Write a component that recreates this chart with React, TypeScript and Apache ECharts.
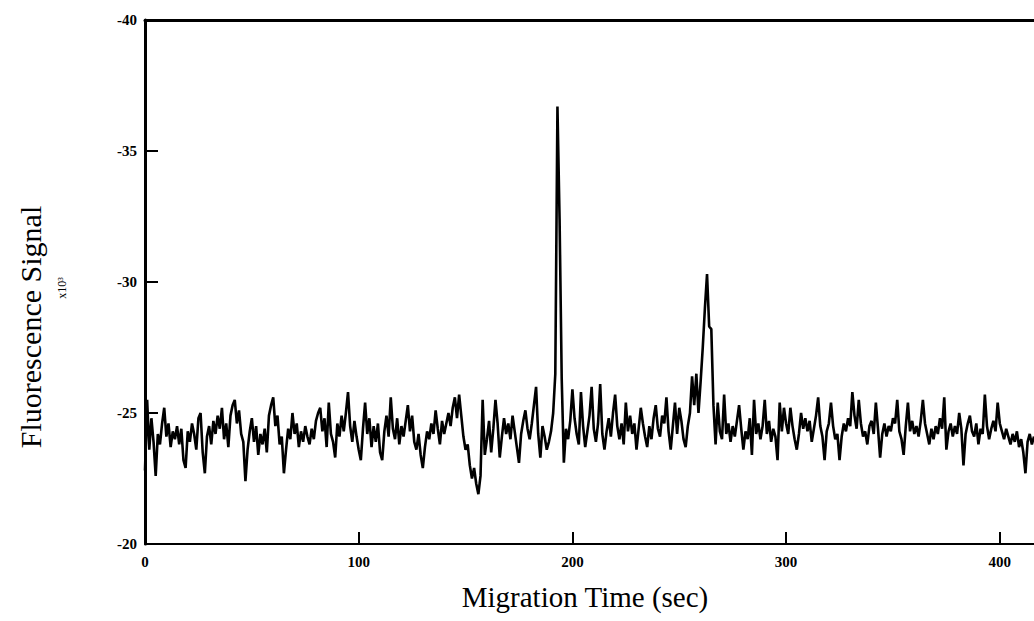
import React, { useEffect, useRef } from "react";
import * as echarts from "echarts";

// Sampling: one point per second starting at t = 0 s
const sampleStartSec = 0;
const sampleStepSec = 1;

// Fluorescence signal (x10^3), one value per second
const signal: number[] = [
  -22.8, -25.5, -23.6, -24.8, -23.9, -22.6, -24.2, -23.8, -24.6, -25.2,
  -24.1, -24.6, -23.7, -24.3, -24.0, -24.5, -23.8, -24.4, -23.2, -22.9,
  -24.3, -23.9, -24.6, -24.2, -23.6, -24.8, -25.0, -23.5, -22.7, -24.1,
  -24.5, -23.8, -24.7, -24.2, -24.9, -24.4, -25.2, -24.0, -24.6, -23.7,
  -24.9, -25.3, -25.5, -24.6, -25.1, -24.2, -23.9, -22.4, -23.6, -24.3,
  -24.8, -23.9, -24.5, -23.4, -24.2, -23.8, -24.4, -23.5, -24.9, -25.3,
  -25.6, -24.5, -24.9, -23.8, -24.1, -22.7, -23.6, -24.4, -24.0, -25.0,
  -24.2, -24.6, -23.7, -24.3, -23.9, -24.5, -24.1, -23.8, -24.4, -24.0,
  -24.7, -25.0, -25.2, -24.3, -24.8, -23.7, -25.4, -24.2, -23.9, -23.3,
  -24.6, -24.1, -24.9, -24.3, -25.0, -25.8, -24.5, -23.9, -24.7, -24.1,
  -23.6, -23.2, -24.4, -25.4, -24.2, -24.8, -23.7, -24.5, -23.9, -24.6,
  -23.5, -23.2, -24.3, -24.9, -24.1, -25.6, -24.4, -24.0, -24.8, -23.8,
  -24.5, -24.1, -24.7, -25.3, -24.3, -24.9, -23.9, -23.6, -24.2, -23.4,
  -22.9, -23.7, -24.3, -24.0, -24.6, -24.2, -25.1, -24.4, -23.8, -24.7,
  -24.2, -24.6, -25.0, -24.5, -25.2, -25.6, -24.8, -25.7, -24.9, -24.1,
  -23.6, -23.8, -23.0, -22.5, -22.9, -22.3, -21.9, -22.6, -25.5, -23.4,
  -24.0, -24.7, -23.5, -24.4, -25.5, -24.6, -23.3, -24.1, -24.8, -24.2,
  -24.6, -24.0, -24.9, -24.3, -23.7, -23.1, -24.2, -24.7, -25.1, -24.4,
  -24.0, -24.6, -25.3, -26.0, -24.2, -23.3, -24.5, -24.1, -23.6, -23.9,
  -24.3, -25.0, -26.5, -36.7, -32.4, -26.3, -23.1, -24.4, -24.0, -24.7,
  -25.9, -24.8, -24.2, -23.8, -25.8, -24.5, -23.7, -24.3, -24.9, -26.0,
  -24.4, -23.9, -24.6, -26.1, -24.2, -23.6, -24.3, -24.8, -24.1, -25.0,
  -25.7, -24.5, -24.0, -24.6, -23.8, -25.4, -24.3, -24.9, -24.2, -24.6,
  -23.6, -24.4, -25.2, -24.6, -24.1, -23.7, -24.5, -24.0, -24.8, -25.3,
  -24.4, -24.1, -24.9, -24.6, -25.6, -24.3, -23.6, -24.5, -25.4, -24.2,
  -25.2, -24.7, -24.0, -23.7, -24.5, -25.0, -26.4, -25.3, -26.5, -25.0,
  -26.2, -27.5, -29.0, -30.3, -28.3, -28.2, -25.3, -23.8, -25.4, -24.3,
  -24.0, -25.7, -24.2, -24.6, -23.9, -24.5, -24.1, -24.7, -25.3, -24.4,
  -23.6, -24.3, -24.0, -24.8, -23.4, -25.5, -24.2, -24.6, -24.0, -24.5,
  -25.5, -24.2, -24.7, -23.9, -24.4, -24.1, -23.2, -25.4, -24.3, -25.2,
  -24.6, -24.2, -25.2, -24.5, -24.0, -23.6, -24.2, -25.0, -24.4, -24.8,
  -24.3, -24.7, -23.9, -24.4, -24.9, -25.6, -24.5, -24.1, -23.2, -24.3,
  -24.6, -25.4, -24.5, -24.0, -24.2, -23.2, -24.1, -24.6, -24.3, -24.8,
  -24.5, -25.8, -24.9, -24.4, -25.5, -24.6, -24.1, -24.3, -23.8, -24.5,
  -24.7, -24.2, -25.4, -24.4, -23.3, -24.2, -24.6, -24.1, -24.5, -24.3,
  -24.8, -24.6, -25.5, -24.3, -24.0, -23.4, -24.5, -25.4, -24.3, -24.7,
  -24.2, -24.5, -24.1, -24.7, -25.5, -24.6, -24.2, -23.8, -24.4, -24.0,
  -24.5, -24.2, -24.8, -24.4, -25.6, -23.6, -24.3, -24.6, -24.1, -24.5,
  -24.2, -25.0, -24.4, -23.0, -24.2, -24.6, -24.9, -24.3, -24.1, -24.6,
  -23.8, -24.4, -24.2, -25.7, -24.5, -24.0, -24.4, -24.7, -24.3, -25.4,
  -24.6, -24.3, -24.0, -24.4, -24.1, -23.8, -24.2, -23.9, -24.3, -23.7,
  -24.0, -23.5, -22.7, -23.9, -24.2, -23.8, -24.1,
];

// Axis ranges and ticks
const xMin = 0;
const xMax = 416;
const xInterval = 100;
const yMin = -40;
const yMax = -20;
const yInterval = 5;

const xAxisTitle = "Migration Time (sec)";
const yAxisTitle = "Fluorescence Signal";
const yAxisUnit = "x10³";

const FONT = "'Liberation Serif', 'Times New Roman', serif";

export default function App() {
  const ref = useRef<HTMLDivElement>(null);

  useEffect(() => {
    if (!ref.current) return;
    const chart = echarts.init(ref.current, undefined, { renderer: "svg" });
    const points = signal.map((v, i) => [sampleStartSec + i * sampleStepSec, v]);

    chart.setOption({
      animation: false,
      backgroundColor: "#ffffff",
      grid: { left: 145, right: 0, top: 20, bottom: 77, containLabel: false },
      xAxis: [
        {
          type: "value",
          min: xMin,
          max: xMax,
          interval: xInterval,
          position: "bottom",
          axisLine: { show: true, lineStyle: { color: "#000", width: 2 } },
          axisTick: { show: true, inside: true, length: 12, lineStyle: { color: "#000", width: 2 } },
          axisLabel: {
            color: "#000",
            fontFamily: FONT,
            fontSize: 15,
            fontWeight: "bold",
            margin: 10,
            showMaxLabel: false,
          },
          splitLine: { show: false },
        },
        {
          type: "value",
          min: xMin,
          max: xMax,
          position: "top",
          axisLine: { show: true, lineStyle: { color: "#000", width: 3 } },
          axisTick: { show: false },
          axisLabel: { show: false },
          splitLine: { show: false },
        },
      ],
      yAxis: {
        type: "value",
        min: yMin,
        max: yMax,
        interval: yInterval,
        inverse: true,
        axisLine: { show: true, lineStyle: { color: "#000", width: 3 } },
        axisTick: { show: true, inside: true, length: 13, lineStyle: { color: "#000", width: 2 } },
        axisLabel: {
          color: "#000",
          fontFamily: FONT,
          fontSize: 15,
          fontWeight: "bold",
          margin: 8,
        },
        splitLine: { show: false },
      },
      series: [
        {
          type: "line",
          data: points,
          xAxisIndex: 0,
          showSymbol: false,
          symbol: "none",
          lineStyle: { color: "#000", width: 2.6 },
          clip: true,
        },
      ],
      graphic: [
        {
          type: "text",
          x: 30,
          y: 327,
          rotation: Math.PI / 2,
          style: {
            text: yAxisTitle,
            fill: "#000",
            font: `30px ${FONT}`,
            textAlign: "center",
            textVerticalAlign: "middle",
          },
        },
        {
          type: "text",
          x: 62,
          y: 288,
          rotation: Math.PI / 2,
          style: {
            text: yAxisUnit,
            fill: "#000",
            font: `12px ${FONT}`,
            textAlign: "center",
            textVerticalAlign: "middle",
          },
        },
        {
          type: "text",
          x: 585,
          y: 597,
          style: {
            text: xAxisTitle,
            fill: "#000",
            font: `29px ${FONT}`,
            textAlign: "center",
            textVerticalAlign: "middle",
          },
        },
      ],
    });

    return () => chart.dispose();
  }, []);

  return (
    <div
      ref={ref}
      style={{ position: "fixed", left: 0, top: 0, width: 1034, height: 621 }}
    />
  );
}
